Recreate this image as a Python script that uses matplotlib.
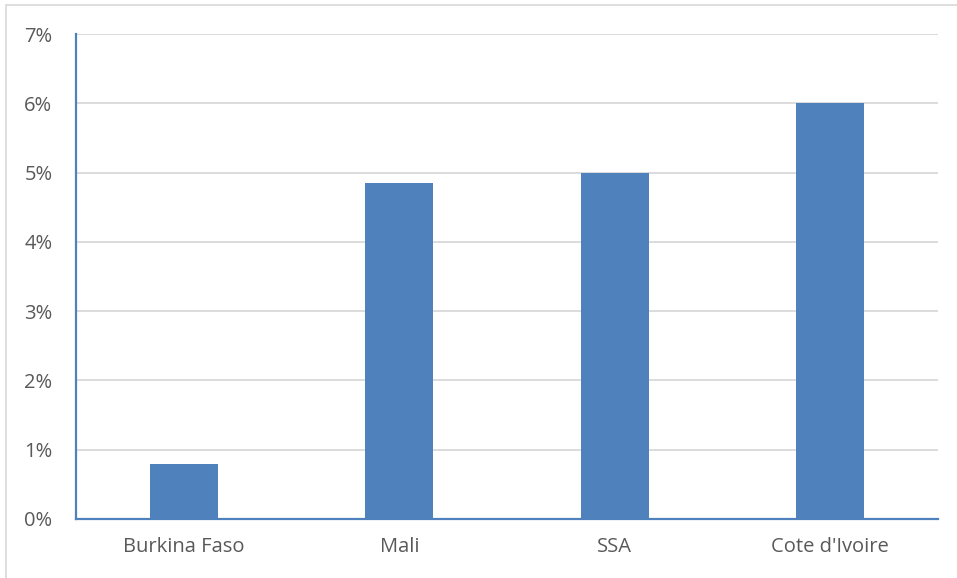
import matplotlib
matplotlib.use("Agg")
from matplotlib import pyplot as plt
from matplotlib.patches import Rectangle
from matplotlib.ticker import FuncFormatter
import numpy as np

countries = ["Burkina Faso", "Mali", "SSA", "Cote d'Ivoire"]
shares = [0.79, 4.85, 5.0, 6.0]
yticks = [0, 1, 2, 3, 4, 5, 6, 7]

bar_color = "#4F81BD"
text_color = "#595959"
grid_color = "#D9D9D9"

plt.rcParams["font.family"] = ["Open Sans", "DejaVu Sans"]

fig = plt.figure(figsize=(9.57, 5.78), dpi=100)
ax = fig.add_axes([76 / 957, 1 - 519 / 578, (938 - 76) / 957, (519 - 34) / 578])

x = np.arange(len(countries))
ax.bar(x, shares, width=0.315, color=bar_color, zorder=3)

ax.set_xlim(-0.5, len(countries) - 0.5)
ax.set_ylim(0, 7)
ax.set_yticks(yticks)
ax.yaxis.set_major_formatter(FuncFormatter(lambda v, p: f"{v:.0f}%"))
ax.set_xticks(x)
ax.set_xticklabels(countries)

ax.grid(axis="y", color=grid_color, linewidth=1.3, zorder=0)
ax.tick_params(axis="both", length=0, labelsize=14.5, colors=text_color)
ax.tick_params(axis="y", pad=17)
ax.tick_params(axis="x", pad=13)

for side in ["top", "right"]:
    ax.spines[side].set_visible(False)
for side in ["left", "bottom"]:
    ax.spines[side].set_color(bar_color)
    ax.spines[side].set_linewidth(1.6)

# outer chart border
fig.patches.append(Rectangle((6 / 957, -0.1), 1.2, 1 - 5 / 578 + 0.1,
                             transform=fig.transFigure, fill=False,
                             edgecolor="#D9D9D9", linewidth=1.2))

fig.savefig("out.png", dpi=100)
